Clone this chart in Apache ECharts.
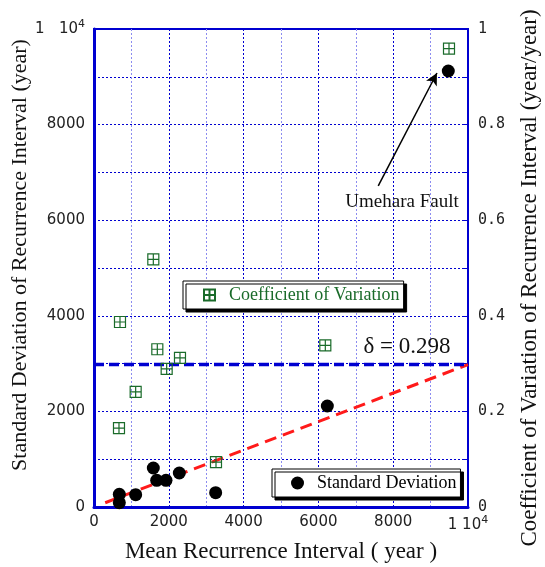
<!DOCTYPE html>
<html><head><meta charset="utf-8">
<script src="https://cdn.jsdelivr.net/npm/echarts@6/dist/echarts.min.js"></script>
<style>html,body{margin:0;padding:0;background:#fff}#c{width:545px;height:567px}</style>
</head><body><div id="c"></div>
<script>
// Standard deviation series (left axis)
const sdMean = [677, 677, 1114, 1586, 1676, 1925, 2281, 3253, 6239, 9473];
const sdValues = [90, 265, 258, 816, 558, 558, 711, 300, 2113, 9121];
// Coefficient of variation series (right axis)
const cvMean = [668, 695, 1114, 1586, 1693, 1943, 2299, 3262, 6185, 9492];
const cvValues = [0.165, 0.387, 0.241, 0.518, 0.330, 0.289, 0.312, 0.094, 0.338, 0.959];
// Reference lines
const delta = 0.298;
const fitX = [300, 10000];
// Tick labels
const xTicks = ['0', '2000', '4000', '6000', '8000', '1 10^4'];
const yLeftTicks = ['0', '2000', '4000', '6000', '8000', '1   10^4'];
const yRightTicks = ['0', '0.2', '0.4', '0.6', '0.8', '1'];

const BLUE = '#0000d0';
const GREEN = '#1a6b2a';
const SERIF = '"Liberation Serif", "DejaVu Serif", serif';
const SANS = '"DejaVu Sans", sans-serif';
const MONO = '"DejaVu Sans Mono", monospace';

function tickFmt(list, step) {
  return function (v) {
    const idx = Math.round(v / step);
    const s = list[idx];
    if (s === undefined) return '';
    if (s.indexOf('^') >= 0) {
      const p = s.split('^');
      return '{a|' + p[0] + '}{s|' + p[1] + '}';
    }
    return s;
  };
}
const richSup = {
  a: { fontFamily: SANS, fontSize: 15, color: '#222' },
  s: { fontFamily: SANS, fontSize: 11, color: '#222', padding: [0, 0, 9, 0] }
};
const cvSymbol = 'path://M0,0L10,0L10,10L0,10Z M5,0L5,10 M0,5L10,5';

const chart = echarts.init(document.getElementById('c'), null, { renderer: 'canvas' });
chart.setOption({
  animation: false,
  backgroundColor: '#fff',
  grid: { left: 94, top: 29, right: 77, bottom: 60, show: true, borderColor: BLUE, borderWidth: 2, containLabel: false, outerBoundsMode: 'none' },
  xAxis: {
    type: 'value', min: 0, max: 10000, interval: 2000,
    name: 'Mean Recurrence Interval ( year )', nameLocation: 'middle', nameGap: 33,
    nameTextStyle: { fontFamily: SERIF, fontSize: 23, color: '#111' },
    axisLine: { show: true, lineStyle: { color: BLUE, width: 3 } },
    axisTick: { show: false },
    axisLabel: { margin: 8, fontFamily: SANS, fontSize: 15, color: '#222', formatter: tickFmt(xTicks, 2000), rich: richSup },
    splitLine: { show: true, lineStyle: { color: BLUE, type: [2, 2], width: 1 } },
    minorTick: { show: false, splitNumber: 2 },
    minorSplitLine: { show: true, lineStyle: { color: '#8c8cf0', type: [2, 2], width: 1 } }
  },
  yAxis: [{
    type: 'value', min: 0, max: 10000, interval: 2000,
    name: 'Standard Deviation of Recurrence Interval (year)', nameLocation: 'middle', nameGap: 63,
    nameMoveOverlap: false,
    nameTextStyle: { fontFamily: SERIF, fontSize: 22, color: '#111', padding: [0, 0, 0, 26] },
    axisLine: { show: true, lineStyle: { color: BLUE, width: 3 } },
    axisTick: { show: false },
    axisLabel: { margin: 9, fontFamily: SANS, fontSize: 15, color: '#222', formatter: tickFmt(yLeftTicks, 2000), rich: richSup },
    splitLine: { show: true, lineStyle: { color: BLUE, type: [2, 2], width: 1 } },
    minorTick: { show: false, splitNumber: 2 },
    minorSplitLine: { show: true, lineStyle: { color: BLUE, type: [2, 2], width: 1 } }
  }, {
    type: 'value', min: 0, max: 1, interval: 0.2, position: 'right',
    name: 'Coefficient of Variation of Recurrence Interval (year/year)', nameLocation: 'middle', nameGap: 50,
    nameTextStyle: { fontFamily: SERIF, fontSize: 23, color: '#111', padding: [0, 20, 0, 0] },
    axisLine: { show: true, lineStyle: { color: BLUE, width: 1 } },
    axisTick: { show: true, inside: true, length: 4, lineStyle: { color: BLUE } },
    minorTick: { show: true, splitNumber: 2, length: 4, lineStyle: { color: BLUE } },
    axisLabel: { margin: 10, fontFamily: MONO, fontSize: 15, color: '#222', formatter: tickFmt(yRightTicks, 0.2) },
    splitLine: { show: false }
  }],
  legend: [{
    data: ['Coefficient of Variation'], left: 183, top: 281, orient: 'horizontal',
    padding: [5, 4, 5, 20], itemWidth: 11, itemHeight: 11,
    backgroundColor: '#fff', borderColor: '#000', borderWidth: 1,
    shadowColor: '#000', shadowBlur: 0, shadowOffsetX: 3, shadowOffsetY: 3,
    textStyle: { fontFamily: SERIF, fontSize: 18, color: GREEN, padding: [0, 0, 0, 9] }
  }, {
    data: ['Standard Deviation'], left: 272, top: 469, orient: 'horizontal',
    padding: [5, 4, 5, 19], itemWidth: 13, itemHeight: 13,
    backgroundColor: '#fff', borderColor: '#000', borderWidth: 1,
    shadowColor: '#000', shadowBlur: 0, shadowOffsetX: 3, shadowOffsetY: 3,
    textStyle: { fontFamily: SERIF, fontSize: 18, color: '#000', padding: [0, 0, 0, 8] }
  }],
  series: [{
    name: 'Fit', type: 'line', yAxisIndex: 0, symbol: 'none', silent: true,
    data: fitX.map(x => [x, delta * x]),
    lineStyle: { color: '#ff1a1a', width: 3, type: [12, 7] }, z: 3
  }, {
    name: 'Delta', type: 'line', yAxisIndex: 1, symbol: 'none', silent: true,
    data: [[0, delta], [10000, delta]],
    lineStyle: { color: BLUE, width: 3.5, type: [10, 5] }, z: 3,
    markPoint: {
      symbol: 'circle', symbolSize: 0,
      label: { show: true, position: 'inside', fontFamily: SERIF, fontSize: 23, color: '#111', formatter: '\u03B4 = ' + delta },
      data: [{ coord: [8370, 0.335] }]
    }
  }, {
    name: 'Coefficient of Variation', type: 'scatter', yAxisIndex: 1,
    symbol: cvSymbol, symbolSize: 11,
    itemStyle: { color: 'rgba(0,0,0,0)', borderColor: GREEN, borderWidth: 1.2, opacity: 1 },
    data: cvMean.map((m, i) => [m, cvValues[i]]), z: 5
  }, {
    name: 'Standard Deviation', type: 'scatter', yAxisIndex: 0,
    symbol: 'circle', symbolSize: 13,
    itemStyle: { color: '#000', opacity: 1 },
    data: sdMean.map((m, i) => [m, sdValues[i]]), z: 6,
    markLine: {
      silent: true, symbol: ['none', 'arrow'], symbolSize: [9, 12],
      lineStyle: { color: '#000', width: 1.5, type: 'solid' },
      label: { show: false },
      data: [[{ coord: [7600, 6720] }, { coord: [9170, 9080] }]]
    },
    markPoint: {
      symbol: 'circle', symbolSize: 0,
      label: { show: true, position: 'inside', fontFamily: SERIF, fontSize: 19, color: '#111', formatter: 'Umehara Fault' },
      data: [{ coord: [8235, 6380] }]
    }
  }]
});
</script></body></html>
